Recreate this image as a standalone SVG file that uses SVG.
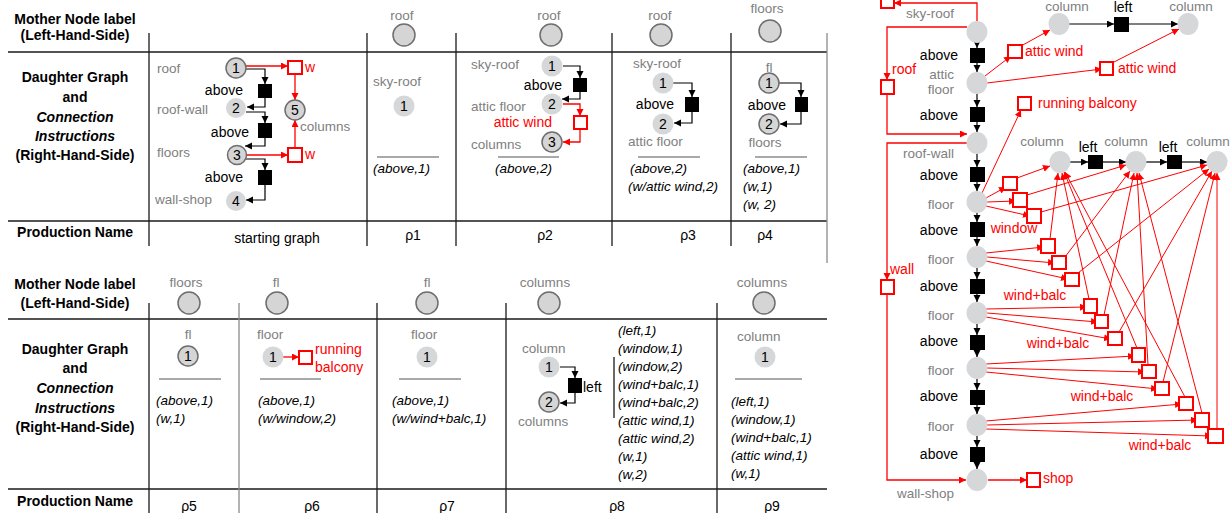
<svg xmlns="http://www.w3.org/2000/svg" width="1231" height="513" viewBox="0 0 1231 513">
<defs>
<style>
text{font-family:"Liberation Sans",Arial,Helvetica,sans-serif}
.hd{font-size:14px;font-weight:bold;text-anchor:middle;fill:#000}
.hi{font-style:italic}
.g{font-size:13.5px;fill:#808080}
.gm{font-size:13.5px;fill:#808080;text-anchor:middle}
.ge{font-size:13.5px;fill:#808080;text-anchor:end}
.bk{font-size:14px;fill:#000}
.be{font-size:14px;fill:#000;text-anchor:end}
.bm{font-size:14px;fill:#000;text-anchor:middle}
.rd{font-size:14px;fill:#f00}
.re{font-size:14px;fill:#f00;text-anchor:end}
.rm{font-size:14px;fill:#f00;text-anchor:middle}
.it{font-size:13.5px;font-style:italic;fill:#000}
.num{font-size:14px;fill:#000;text-anchor:middle}
.pn{font-size:14px;fill:#000;text-anchor:middle}
.tb{stroke:#1a1a1a;stroke-width:1.3;fill:none}
.tg{stroke:#8a8a8a;stroke-width:1.3;fill:none}
.rule{stroke:#555;stroke-width:1.2}
.mn{fill:#d5d5d5;stroke:#6e6e6e;stroke-width:1.5}
.nd{fill:#d5d7d9}
.bl{stroke:#000;stroke-width:1.2;fill:none}
.rl{stroke:#f00;stroke-width:1.3;fill:none}
.rf{stroke:#f00;stroke-width:1;fill:none}
.sq{fill:#000}
.rs{fill:#fff;stroke:#f00;stroke-width:2}
</style>
<marker id="ab" markerUnits="userSpaceOnUse" markerWidth="8" markerHeight="8" refX="7" refY="3.5" orient="auto"><path d="M0,0 L7,3.5 L0,7 z" fill="#000"/></marker>
<marker id="ar" markerUnits="userSpaceOnUse" markerWidth="8" markerHeight="8" refX="7" refY="3.5" orient="auto"><path d="M0,0 L7,3.5 L0,7 z" fill="#f00"/></marker>
</defs>
<rect width="1231" height="513" fill="#fff"/>

<g id="table-grid">
<line class="tb" x1="8" y1="52" x2="827" y2="52"/>
<line class="tb" x1="8" y1="221" x2="827" y2="221"/>
<line class="tb" x1="149" y1="33" x2="149" y2="246"/>
<line class="tb" x1="367" y1="33" x2="367" y2="246"/>
<line class="tb" x1="456" y1="33" x2="456" y2="246"/>
<line class="tb" x1="612" y1="33" x2="612" y2="246"/>
<line class="tb" x1="731" y1="33" x2="731" y2="246"/>
<line class="tg" x1="827" y1="33" x2="827" y2="263"/>
<line class="tb" x1="8" y1="319" x2="827" y2="319"/>
<line class="tb" x1="8" y1="489" x2="827" y2="489"/>
<line class="tb" x1="149" y1="303" x2="149" y2="513"/>
<line class="tg" x1="239" y1="303" x2="239" y2="513"/>
<line class="tb" x1="377" y1="303" x2="377" y2="513"/>
<line class="tb" x1="506" y1="303" x2="506" y2="513"/>
<line class="tb" x1="717" y1="303" x2="717" y2="513"/>
<line class="tb" x1="614" y1="357" x2="614" y2="418"/>
<line class="rule" x1="377" y1="157" x2="439" y2="157"/>
<line class="rule" x1="498" y1="157" x2="559" y2="157"/>
<line class="rule" x1="638" y1="157" x2="700" y2="157"/>
<line class="rule" x1="755" y1="157" x2="807" y2="157"/>
<line class="rule" x1="159" y1="379" x2="221" y2="379"/>
<line class="rule" x1="260" y1="379" x2="321" y2="379"/>
<line class="rule" x1="399" y1="379" x2="461" y2="379"/>
<line class="rule" x1="735" y1="379" x2="802" y2="379"/>
</g>

<g id="header-top">
<text class="hd" x="75" y="24">Mother Node label</text>
<text class="hd" x="75" y="40">(Left-Hand-Side)</text>
<text class="hd" x="75" y="82">Daughter Graph</text>
<text class="hd" x="75" y="102">and</text>
<text class="hd hi" x="75" y="122">Connection</text>
<text class="hd hi" x="75" y="141">Instructions</text>
<text class="hd" x="75" y="160">(Right-Hand-Side)</text>
<text class="hd" x="75" y="237">Production Name</text>
</g>
<g id="header-bottom">
<text class="hd" x="75" y="289">Mother Node label</text>
<text class="hd" x="75" y="308">(Left-Hand-Side)</text>
<text class="hd" x="75" y="354">Daughter Graph</text>
<text class="hd" x="75" y="373">and</text>
<text class="hd hi" x="75" y="393">Connection</text>
<text class="hd hi" x="75" y="413">Instructions</text>
<text class="hd" x="75" y="432">(Right-Hand-Side)</text>
<text class="hd" x="75" y="506">Production Name</text>
</g>

<g id="mother-nodes">
<g id="m-p1"><text class="gm" x="402" y="20">roof</text><circle class="mn" cx="404" cy="35" r="11"/></g>
<g id="m-p2"><text class="gm" x="549" y="20">roof</text><circle class="mn" cx="551" cy="35" r="11"/></g>
<g id="m-p3"><text class="gm" x="660" y="20">roof</text><circle class="mn" cx="661" cy="35" r="11"/></g>
<g id="m-p4"><text class="gm" x="767" y="13">floors</text><circle class="mn" cx="770" cy="31" r="11"/></g>
<g id="m-p5"><text class="gm" x="186" y="287">floors</text><circle class="mn" cx="189" cy="303" r="11"/></g>
<g id="m-p6"><text class="gm" x="276" y="287">fl</text><circle class="mn" cx="277" cy="303" r="11"/></g>
<g id="m-p7"><text class="gm" x="427" y="287">fl</text><circle class="mn" cx="427" cy="303" r="11"/></g>
<g id="m-p8"><text class="gm" x="545" y="287">columns</text><circle class="mn" cx="549" cy="303" r="11"/></g>
<g id="m-p9"><text class="gm" x="762" y="287">columns</text><circle class="mn" cx="764" cy="303" r="11"/></g>
</g>

<g id="production-names">
<text class="pn" x="277" y="243">starting graph</text>
<text class="pn" x="413" y="240">ρ1</text>
<text class="pn" x="545" y="240">ρ2</text>
<text class="pn" x="688" y="240">ρ3</text>
<text class="pn" x="765" y="240">ρ4</text>
<text class="pn" x="189" y="511">ρ5</text>
<text class="pn" x="312" y="511">ρ6</text>
<text class="pn" x="447" y="511">ρ7</text>
<text class="pn" x="617" y="511">ρ8</text>
<text class="pn" x="772" y="511">ρ9</text>
</g>

<g id="connection-instructions">
<text class="it" x="373" y="173">(above,1)</text>
<text class="it" x="495" y="173">(above,2)</text>
<text class="it" x="630" y="173">(above,2)</text>
<text class="it" x="628" y="191">(w/attic wind,2)</text>
<text class="it" x="743" y="173">(above,1)</text>
<text class="it" x="743" y="191">(w,1)</text>
<text class="it" x="743" y="209">(w, 2)</text>
<text class="it" x="156" y="405">(above,1)</text>
<text class="it" x="156" y="423">(w,1)</text>
<text class="it" x="258" y="405">(above,1)</text>
<text class="it" x="258" y="423">(w/window,2)</text>
<text class="it" x="392" y="405">(above,1)</text>
<text class="it" x="392" y="423">(w/wind+balc,1)</text>
<text class="it" x="618" y="335">(left,1)</text>
<text class="it" x="618" y="353">(window,1)</text>
<text class="it" x="618" y="371">(window,2)</text>
<text class="it" x="618" y="389">(wind+balc,1)</text>
<text class="it" x="618" y="407">(wind+balc,2)</text>
<text class="it" x="618" y="425">(attic wind,1)</text>
<text class="it" x="618" y="443">(attic wind,2)</text>
<text class="it" x="618" y="461">(w,1)</text>
<text class="it" x="618" y="479">(w,2)</text>
<text class="it" x="731" y="406">(left,1)</text>
<text class="it" x="731" y="424">(window,1)</text>
<text class="it" x="731" y="442">(wind+balc,1)</text>
<text class="it" x="731" y="460">(attic wind,1)</text>
<text class="it" x="731" y="478">(w,1)</text>
</g>

<g id="connectors">
<path class="bl" d="M246,69 H265 V84" marker-end="url(#ab)"/>
<path class="bl" d="M265,98 V107 H247" marker-end="url(#ab)"/>
<path class="bl" d="M246,112 H265 V123" marker-end="url(#ab)"/>
<path class="bl" d="M265,138 V146 H245" marker-end="url(#ab)"/>
<path class="bl" d="M246,159 H265 V170" marker-end="url(#ab)"/>
<path class="bl" d="M265,185 V200 H246" marker-end="url(#ab)"/>
<path class="rl" d="M246,66 H288" marker-end="url(#ar)"/>
<path class="rl" d="M295,74 V100" marker-end="url(#ar)"/>
<path class="rl" d="M246,155 H288" marker-end="url(#ar)"/>
<path class="rl" d="M295,148 V120" marker-end="url(#ar)"/>
<path class="bl" d="M563,66 H580 V78" marker-end="url(#ab)"/>
<path class="bl" d="M580,92 V99 H562" marker-end="url(#ab)"/>
<path class="rl" d="M563,104 H580 V116" marker-end="url(#ar)"/>
<path class="rl" d="M580,130 V142 H563" marker-end="url(#ar)"/>
<path class="bl" d="M673,83 H692 V97" marker-end="url(#ab)"/>
<path class="bl" d="M692,112 V123 H674" marker-end="url(#ab)"/>
<path class="bl" d="M779,83 H801 V97" marker-end="url(#ab)"/>
<path class="bl" d="M801,112 V124 H780" marker-end="url(#ab)"/>
<path class="rl" d="M283,357 H299" marker-end="url(#ar)"/>
<path class="bl" d="M560,367 H575 V378" marker-end="url(#ab)"/>
<path class="bl" d="M575,393 V403 H560" marker-end="url(#ab)"/>

<path class="bl" d="M977,43 V48" marker-end="url(#ab)"/>
<path class="bl" d="M977,63 V72" marker-end="url(#ab)"/>
<path class="bl" d="M977,94 V107" marker-end="url(#ab)"/>
<path class="bl" d="M977,122 V132" marker-end="url(#ab)"/>
<path class="bl" d="M977,154 V167" marker-end="url(#ab)"/>
<path class="bl" d="M977,182 V191" marker-end="url(#ab)"/>
<path class="bl" d="M977,213 V222" marker-end="url(#ab)"/>
<path class="bl" d="M977,237 V246" marker-end="url(#ab)"/>
<path class="bl" d="M977,268 V279" marker-end="url(#ab)"/>
<path class="bl" d="M977,294 V302" marker-end="url(#ab)"/>
<path class="bl" d="M977,324 V335" marker-end="url(#ab)"/>
<path class="bl" d="M977,350 V357" marker-end="url(#ab)"/>
<path class="bl" d="M977,379 V390" marker-end="url(#ab)"/>
<path class="bl" d="M977,405 V414" marker-end="url(#ab)"/>
<path class="bl" d="M977,436 V447" marker-end="url(#ab)"/>
<path class="bl" d="M977,462 V469" marker-end="url(#ab)"/>
<path class="bl" d="M1069,24 H1114" marker-end="url(#ab)"/>
<path class="bl" d="M1129,24 H1178" marker-end="url(#ab)"/>
<path class="bl" d="M1070,162 H1088" marker-end="url(#ab)"/>
<path class="bl" d="M1103,162 H1126" marker-end="url(#ab)"/>
<path class="bl" d="M1146,162 H1167" marker-end="url(#ab)"/>
<path class="bl" d="M1182,162 H1207" marker-end="url(#ab)"/>
<path class="rl" d="M977,21 V3 H894" marker-end="url(#ar)"/>
<path class="rl" d="M967,27 H887 V80" marker-end="url(#ar)"/>
<path class="rl" d="M887,94 V134 H967" marker-end="url(#ar)"/>
<path class="rl" d="M967,143 H887 V280" marker-end="url(#ar)"/>
<path class="rl" d="M887,294 V480 H966" marker-end="url(#ar)"/>
<path class="rl" d="M988,480 H1027" marker-end="url(#ar)"/>
<path class="rf" d="M985,76 L1011,56" marker-end="url(#ar)"/>
<path class="rf" d="M1021,46 L1050,30" marker-end="url(#ar)"/>
<path class="rf" d="M987,83 L1102,69" marker-end="url(#ar)"/>
<path class="rf" d="M1112,63 L1179,29" marker-end="url(#ar)"/>
<path class="rf" d="M982,193 L1021,110" marker-end="url(#ar)"/>
<path class="rf" d="M986,198 L1006,187" marker-end="url(#ar)"/>
<path class="rf" d="M987,202 L1016,201" marker-end="url(#ar)"/>
<path class="rf" d="M986,206 L1030,216" marker-end="url(#ar)"/>
<path class="rf" d="M1017,178 L1050,166" marker-end="url(#ar)"/>
<path class="rf" d="M1027,195 L1126,165" marker-end="url(#ar)"/>
<path class="rf" d="M1041,212 L1207,165" marker-end="url(#ar)"/>
<path class="rf" d="M986,253 L1044,247" marker-end="url(#ar)"/>
<path class="rf" d="M987,257 L1055,263" marker-end="url(#ar)"/>
<path class="rf" d="M986,261 L1068,279" marker-end="url(#ar)"/>
<path class="rf" d="M1050,239 L1058,173" marker-end="url(#ar)"/>
<path class="rf" d="M1065,257 L1130,171" marker-end="url(#ar)"/>
<path class="rf" d="M1078,273 L1209,169" marker-end="url(#ar)"/>
<path class="rf" d="M986,309 L1087,307" marker-end="url(#ar)"/>
<path class="rf" d="M987,313 L1098,322" marker-end="url(#ar)"/>
<path class="rf" d="M986,317 L1111,339" marker-end="url(#ar)"/>
<path class="rf" d="M1089,299 L1062,173" marker-end="url(#ar)"/>
<path class="rf" d="M1104,315 L1134,173" marker-end="url(#ar)"/>
<path class="rf" d="M1119,332 L1212,171" marker-end="url(#ar)"/>
<path class="rf" d="M986,364 L1135,356" marker-end="url(#ar)"/>
<path class="rf" d="M987,368 L1145,372" marker-end="url(#ar)"/>
<path class="rf" d="M986,372 L1158,389" marker-end="url(#ar)"/>
<path class="rf" d="M1137,348 L1064,172" marker-end="url(#ar)"/>
<path class="rf" d="M1148,365 L1137,173" marker-end="url(#ar)"/>
<path class="rf" d="M1163,382 L1215,173" marker-end="url(#ar)"/>
<path class="rf" d="M986,421 L1182,404" marker-end="url(#ar)"/>
<path class="rf" d="M987,425 L1198,420" marker-end="url(#ar)"/>
<path class="rf" d="M986,429 L1212,436" marker-end="url(#ar)"/>
<path class="rf" d="M1185,397 L1065,172" marker-end="url(#ar)"/>
<path class="rf" d="M1202,413 L1139,173" marker-end="url(#ar)"/>
<path class="rf" d="M1217,429 L1217,173" marker-end="url(#ar)"/>
</g>

<g id="sg-n1"><circle class="mn" cx="236" cy="68" r="10"/><text class="num" x="236" y="73">1</text><text class="g" x="157" y="73">roof</text></g>
<g id="sg-n2"><circle class="nd" cx="236" cy="108" r="10"/><text class="num" x="236" y="113">2</text><text class="g" x="157" y="114">roof-wall</text></g>
<g id="sg-n3"><circle class="mn" cx="237" cy="155" r="9.5"/><text class="num" x="237" y="160">3</text><text class="g" x="157" y="157">floors</text></g>
<g id="sg-n4"><circle class="nd" cx="236" cy="201" r="10"/><text class="num" x="236" y="206">4</text><text class="g" x="155" y="204">wall-shop</text></g>
<g id="sg-n5"><circle class="mn" cx="295" cy="110" r="10"/><text class="num" x="295" y="115">5</text><text class="g" x="300" y="131">columns</text></g>
<g id="sg-a1"><rect class="sq" x="258" y="84" width="14" height="14"/><text class="be" x="243" y="95">above</text></g>
<g id="sg-a2"><rect class="sq" x="258" y="123" width="14" height="15"/><text class="be" x="249" y="137">above</text></g>
<g id="sg-a3"><rect class="sq" x="258" y="170" width="14" height="15"/><text class="be" x="243" y="182">above</text></g>
<g id="sg-w1"><rect class="rs" x="288" y="61" width="14" height="13"/><text class="rd" x="305" y="72">w</text></g>
<g id="sg-w2"><rect class="rs" x="288" y="148" width="14" height="14"/><text class="rd" x="305" y="159">w</text></g>

<g id="p1-n1"><text class="g" x="373" y="86">sky-roof</text><circle class="nd" cx="404" cy="106" r="10.5"/><text class="num" x="404" y="111">1</text></g>
<g id="p2-n1"><text class="g" x="471" y="69">sky-roof</text><circle class="nd" cx="552" cy="66" r="10.5"/><text class="num" x="552" y="71">1</text></g>
<g id="p2-a"><rect class="sq" x="573" y="78" width="14" height="14"/><text class="be" x="562" y="90">above</text></g>
<g id="p2-n2"><text class="g" x="471" y="111">attic floor</text><circle class="nd" cx="552" cy="104" r="10.5"/><text class="num" x="552" y="109">2</text></g>
<g id="p2-aw"><rect class="rs" x="574" y="116" width="13" height="13"/><text class="re" x="552" y="127">attic wind</text></g>
<g id="p2-n3"><text class="g" x="471" y="149">columns</text><circle class="mn" cx="552" cy="142" r="10"/><text class="num" x="552" y="147">3</text></g>
<g id="p3-n1"><text class="g" x="633" y="68">sky-roof</text><circle class="nd" cx="663" cy="83" r="10.5"/><text class="num" x="663" y="88">1</text></g>
<g id="p3-a"><rect class="sq" x="685" y="97" width="14" height="15"/><text class="be" x="674" y="109">above</text></g>
<g id="p3-n2"><circle class="nd" cx="663" cy="124" r="10.5"/><text class="num" x="663" y="129">2</text><text class="g" x="628" y="146">attic floor</text></g>
<g id="p4-n1"><text class="gm" x="769" y="72">fl</text><circle class="mn" cx="769" cy="83" r="10"/><text class="num" x="769" y="88">1</text></g>
<g id="p4-a"><rect class="sq" x="795" y="97" width="13" height="15"/><text class="be" x="786" y="110">above</text></g>
<g id="p4-n2"><circle class="mn" cx="769" cy="124" r="10"/><text class="num" x="769" y="129">2</text><text class="gm" x="765" y="147">floors</text></g>
<g id="p5-n1"><text class="gm" x="188" y="339">fl</text><circle class="mn" cx="188" cy="356" r="10"/><text class="num" x="188" y="361">1</text></g>
<g id="p6-n1"><text class="g" x="257" y="339">floor</text><circle class="nd" cx="273" cy="357" r="10.5"/><text class="num" x="273" y="362">1</text></g>
<g id="p6-rb"><rect class="rs" x="299" y="351" width="13" height="13"/><text class="rd" x="315" y="354">running</text><text class="rd" x="315" y="372">balcony</text></g>
<g id="p7-n1"><text class="g" x="411" y="339">floor</text><circle class="nd" cx="427" cy="357" r="10.5"/><text class="num" x="427" y="362">1</text></g>
<g id="p8-n1"><text class="g" x="522" y="353">column</text><circle class="nd" cx="549" cy="367" r="10.5"/><text class="num" x="549" y="372">1</text></g>
<g id="p8-l"><rect class="sq" x="568" y="378" width="14" height="15"/><text class="bk" x="583" y="392">left</text></g>
<g id="p8-n2"><circle class="mn" cx="549" cy="402" r="10"/><text class="num" x="549" y="407">2</text><text class="g" x="518" y="426">columns</text></g>
<g id="p9-n1"><text class="g" x="737" y="341">column</text><circle class="nd" cx="765" cy="357" r="10.5"/><text class="num" x="765" y="362">1</text></g>

<g id="r-skyroof"><ellipse class="nd" cx="977" cy="32" rx="10.5" ry="11"/><text class="ge" x="954" y="18">sky-roof</text></g>
<g id="r-atticfloor"><ellipse class="nd" cx="977" cy="83" rx="10.5" ry="11"/><text class="ge" x="954" y="79">attic</text><text class="ge" x="954" y="94">floor</text></g>
<g id="r-roofwall"><ellipse class="nd" cx="977" cy="143" rx="10.5" ry="11"/><text class="ge" x="954" y="158">roof-wall</text></g>
<g id="r-floor1"><ellipse class="nd" cx="977" cy="202" rx="10.5" ry="11"/><text class="ge" x="954" y="209">floor</text></g>
<g id="r-floor2"><ellipse class="nd" cx="977" cy="257" rx="10.5" ry="11"/><text class="ge" x="954" y="264">floor</text></g>
<g id="r-floor3"><ellipse class="nd" cx="977" cy="313" rx="10.5" ry="11"/><text class="ge" x="954" y="320">floor</text></g>
<g id="r-floor4"><ellipse class="nd" cx="977" cy="368" rx="10.5" ry="11"/><text class="ge" x="954" y="375">floor</text></g>
<g id="r-floor5"><ellipse class="nd" cx="977" cy="425" rx="10.5" ry="11"/><text class="ge" x="954" y="431">floor</text></g>
<g id="r-wallshop"><ellipse class="nd" cx="977" cy="480" rx="10.5" ry="11"/><text class="ge" x="954" y="498">wall-shop</text></g>
<g id="r-above"><rect class="sq" x="970" y="48" width="15" height="15"/><text class="be" x="958" y="60">above</text>
<rect class="sq" x="970" y="107" width="15" height="15"/><text class="be" x="958" y="120">above</text>
<rect class="sq" x="970" y="167" width="15" height="15"/><text class="be" x="958" y="180">above</text>
<rect class="sq" x="970" y="222" width="15" height="15"/><text class="be" x="958" y="235">above</text>
<rect class="sq" x="970" y="279" width="15" height="15"/><text class="be" x="958" y="291">above</text>
<rect class="sq" x="970" y="335" width="15" height="15"/><text class="be" x="958" y="346">above</text>
<rect class="sq" x="970" y="390" width="15" height="15"/><text class="be" x="958" y="401">above</text>
<rect class="sq" x="970" y="447" width="15" height="15"/><text class="be" x="958" y="459">above</text></g>
<g id="r-frame-squares"><rect class="rs" x="881" y="-6" width="13" height="14"/>
<rect class="rs" x="881" y="80" width="13" height="14"/><text class="rd" x="892" y="74">roof</text>
<rect class="rs" x="881" y="280" width="13" height="14"/><text class="rd" x="890" y="274">wall</text>
<rect class="rs" x="1027" y="473" width="13" height="14"/><text class="rd" x="1043" y="483">shop</text></g>
<g id="r-colA"><ellipse class="nd" cx="1059" cy="24" rx="10.5" ry="11"/><text class="gm" x="1067" y="11">column</text></g>
<g id="r-leftA"><rect class="sq" x="1114" y="17" width="15" height="15"/><text class="bm" x="1123" y="12">left</text></g>
<g id="r-colB"><ellipse class="nd" cx="1188" cy="24" rx="10.5" ry="11"/><text class="gm" x="1191" y="11">column</text></g>
<g id="r-colC"><ellipse class="nd" cx="1060" cy="162" rx="10.5" ry="11"/><text class="gm" x="1042" y="146">column</text></g>
<g id="r-leftC"><rect class="sq" x="1088" y="155" width="15" height="14"/><text class="bm" x="1088" y="152">left</text></g>
<g id="r-colD"><ellipse class="nd" cx="1136" cy="162" rx="10.5" ry="11"/><text class="gm" x="1126" y="146">column</text></g>
<g id="r-leftD"><rect class="sq" x="1167" y="155" width="15" height="14"/><text class="bm" x="1168" y="152">left</text></g>
<g id="r-colE"><ellipse class="nd" cx="1217" cy="162" rx="10.5" ry="11"/><text class="gm" x="1208" y="146">column</text></g>
<g id="r-attic"><rect class="rs" x="1008" y="45" width="14" height="13"/><text class="rd" x="1025" y="56">attic wind</text>
<rect class="rs" x="1100" y="62" width="13" height="13"/><text class="rd" x="1118" y="73">attic wind</text>
<rect class="rs" x="1018" y="97" width="13" height="13"/><text class="rd" x="1038" y="108">running balcony</text></g>
<g id="r-win1"><rect class="rs" x="1003" y="177" width="14" height="13"/><rect class="rs" x="1013" y="193" width="14" height="14"/><rect class="rs" x="1027" y="209" width="14" height="14"/><text class="rm" x="1014" y="233">window</text></g>
<g id="r-win2"><rect class="rs" x="1041" y="239" width="14" height="14"/><rect class="rs" x="1052" y="256" width="14" height="13"/><rect class="rs" x="1065" y="273" width="14" height="13"/><text class="rm" x="1035" y="300">wind+balc</text></g>
<g id="r-win3"><rect class="rs" x="1084" y="299" width="13" height="14"/><rect class="rs" x="1095" y="315" width="13" height="13"/><rect class="rs" x="1108" y="332" width="14" height="13"/><text class="rm" x="1058" y="348">wind+balc</text></g>
<g id="r-win4"><rect class="rs" x="1132" y="348" width="13" height="14"/><rect class="rs" x="1142" y="365" width="14" height="13"/><rect class="rs" x="1155" y="382" width="14" height="13"/><text class="rm" x="1102" y="401">wind+balc</text></g>
<g id="r-win5"><rect class="rs" x="1179" y="397" width="14" height="13"/><rect class="rs" x="1195" y="413" width="14" height="14"/><rect class="rs" x="1208" y="429" width="15" height="14"/><text class="rm" x="1160" y="450">wind+balc</text></g>
</svg>
